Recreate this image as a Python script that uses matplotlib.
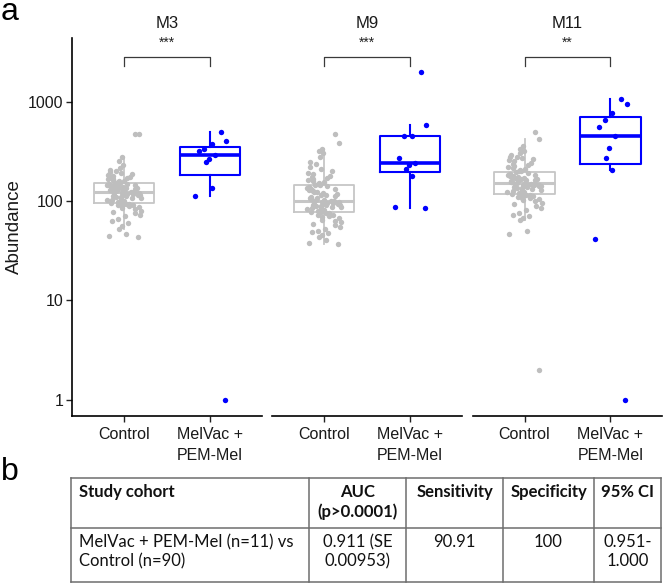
import matplotlib
matplotlib.use("Agg")
import matplotlib.pyplot as plt
import numpy as np
from matplotlib import cbook

plt.rcParams["font.family"] = ["Liberation Sans", "DejaVu Sans"]

# ---- data ----
modules = ["M3", "M9", "M11"]
groups = ["Control", "MelVac +\nPEM-Mel"]
signif = ["***", "***", "**"]

m3_control = [43, 44, 46, 52, 56, 60, 63, 66, 70, 73, 76, 78, 80, 82, 84, 86, 88, 89, 90, 92, 93, 94,
              95, 96, 98, 100, 101, 103, 104, 106, 107, 109, 110, 111, 113, 114, 115, 116, 117, 118, 119,
              120, 121, 122, 123, 125, 126, 128, 129, 130, 131, 133, 134, 135, 136, 138, 139, 140, 141,
              142, 143, 144, 145, 146, 147, 148, 150, 153, 155, 158, 160, 163, 165, 168, 170, 173, 176,
              180, 183, 187, 192, 196, 200, 206, 216, 230, 250, 275, 473, 472]
m3_melvac = [1, 113, 136, 245, 263, 290, 320, 330, 372, 405, 492]

m9_control = [37, 38, 40, 43, 45, 47, 49, 50, 52, 55, 57, 59, 61, 63, 65, 67, 69, 70, 72, 73, 75, 76,
              77, 78, 80, 81, 82, 84, 85, 86, 87, 88, 89, 90, 91, 92, 93, 94, 95, 96, 97, 98, 98, 99, 99,
              101, 103, 104, 106, 108, 110, 112, 114, 116, 118, 120, 122, 124, 126, 128, 130, 132, 134,
              136, 138, 140, 143, 146, 149, 152, 155, 158, 162, 166, 170, 175, 180, 186, 192, 200, 210,
              222, 235, 245, 275, 302, 315, 334, 381, 470]
m9_melvac = [84, 87, 180, 210, 230, 241, 269, 448, 452, 575, 2000]

m11_control = [2, 46, 50, 64, 68, 70, 72, 76, 81, 85, 89, 93, 96, 99, 102, 104, 106, 108, 110, 112, 114,
               115, 116, 118, 120, 122, 124, 126, 128, 130, 132, 134, 135, 137, 138, 140, 141, 142, 143,
               144, 145, 146, 147, 148, 149, 151, 153, 154, 156, 158, 160, 162, 164, 166, 168, 170, 172,
               174, 176, 178, 180, 182, 184, 186, 188, 191, 195, 198, 202, 206, 210, 215, 220, 225, 230,
               236, 243, 250, 258, 265, 272, 277, 280, 290, 305, 317, 330, 360, 421, 492]
m11_melvac = [1, 41, 207, 271, 344, 455, 556, 654, 764, 942, 1064]

controls = [m3_control, m9_control, m11_control]
melvacs = [m3_melvac, m9_melvac, m11_melvac]

table_header = ["Study cohort", "AUC\n(p>0.0001)", "Sensitivity", "Specificity", "95% CI"]
table_row = ["MelVac + PEM-Mel (n=11) vs\nControl (n=90)", "0.911 (SE\n0.00953)", "90.91", "100",
             "0.951-\n1.000"]

GRAY_PT = "#BEBEBE"
GRAY_BOX = "#C6C6C6"
BLUE = "#0000FF"


def log_box_stats(values):
    """Box statistics on log10 scale (like ggplot with scale_y_log10)."""
    st = cbook.boxplot_stats(np.log10(values), whis=1.5)[0]
    for k in ("med", "q1", "q3", "whislo", "whishi", "mean"):
        st[k] = 10 ** st[k]
    st["fliers"] = []
    return st


def jitter(n, width=0.4):
    # deterministic scatter of the points around the group centre
    h = np.sin((np.arange(n) + 1) * 12.9898) * 43758.5453
    return (h % 1.0 - 0.5) * width


W, H = 666, 585
fig = plt.figure(figsize=(W / 100, H / 100), dpi=100)

panel_left = [72, 272, 473]
panel_w = [190, 190, 189]
top_px, bot_px = 38, 416

for i, (name, ctrl, mel) in enumerate(zip(modules, controls, melvacs)):
    ax = fig.add_axes([panel_left[i] / W, 1 - bot_px / H, panel_w[i] / W, (bot_px - top_px) / H])
    ax.set_yscale("log")
    ax.set_ylim(10 ** -0.165, 10 ** 3.64)
    ax.set_xlim(0.4, 2.6)

    for pos, vals, color, pcol, lw, mlw in [(1, ctrl, GRAY_BOX, GRAY_PT, 1.3, 2.2),
                                           (2, mel, BLUE, BLUE, 1.5, 2.6)]:
        st = log_box_stats(vals)
        ax.bxp([st], positions=[pos], widths=0.7, showcaps=False, showfliers=False,
               boxprops=dict(color=color, linewidth=lw),
               whiskerprops=dict(color=color, linewidth=lw),
               medianprops=dict(color=color, linewidth=mlw))
        vals = np.asarray(vals, dtype=float)
        ax.scatter(pos + jitter(len(vals)), vals, s=15, color=pcol, linewidths=0, zorder=3)

    # significance bracket
    ax.plot([1, 1, 2, 2], [2300, 2820, 2820, 2300], color="#3a3a3a", linewidth=0.9)
    ax.text(1.5, 3950, signif[i], ha="center", va="center", fontsize=10, color="#222222")
    ax.text(0.5, 1 + 14 / (bot_px - top_px), name, transform=ax.transAxes,
            ha="center", va="center", fontsize=12, color="#1a1a1a")

    ax.set_xticks([1, 2])
    ax.set_xticklabels(groups, fontsize=11.5, color="#1a1a1a", linespacing=1.45)
    ax.tick_params(axis="x", length=4, width=1, color="#222222", pad=4)
    ax.minorticks_off()
    for s in ("top", "right"):
        ax.spines[s].set_visible(False)
    ax.spines["bottom"].set_linewidth(1.2)
    if i == 0:
        ax.set_yticks([1, 10, 100, 1000])
        ax.set_yticklabels(["1", "10", "100", "1000"], fontsize=11.5, color="#1a1a1a")
        ax.tick_params(axis="y", length=4, width=1, color="#222222", pad=2)
        ax.spines["left"].set_linewidth(1.2)
        ax.set_ylabel("Abundance", fontsize=13.5, color="#1a1a1a", labelpad=4)
    else:
        ax.spines["left"].set_visible(False)
        ax.set_yticks([])

# panel letters
fig.text(1 / W, 1 - 20 / H, "a", fontsize=23, va="baseline", ha="left")
fig.text(1 / W, 1 - 480 / H, "b", fontsize=23, va="baseline", ha="left")

# ---- table (panel b) ----
tax = fig.add_axes([0, 0, 1, 1])
tax.set_xlim(0, W)
tax.set_ylim(H, 0)
tax.axis("off")

col_edges = [71, 309, 406, 503, 594, 661]
row_edges = [478, 528, 582]
line_kw = dict(color="#6e6e6e", linewidth=1.1)
for x in col_edges:
    tax.plot([x, x], [row_edges[0], row_edges[-1]], **line_kw)
for y in row_edges:
    tax.plot([col_edges[0], col_edges[-1]], [y, y], **line_kw)

tfont = ["Lato", "DejaVu Sans"]
for j, (head, cell) in enumerate(zip(table_header, table_row)):
    if j == 0:
        x, ha = col_edges[0] + 8, "left"
    else:
        x, ha = (col_edges[j] + col_edges[j + 1]) / 2, "center"
    tax.text(x, 484, head, ha=ha, va="top", fontsize=12, fontweight="bold",
             family=tfont, linespacing=1.25, color="#111111")
    tax.text(x, 534, cell, ha=ha, va="top", fontsize=12, family=tfont,
             linespacing=1.25, color="#111111")

fig.savefig("out.png", dpi=100)
